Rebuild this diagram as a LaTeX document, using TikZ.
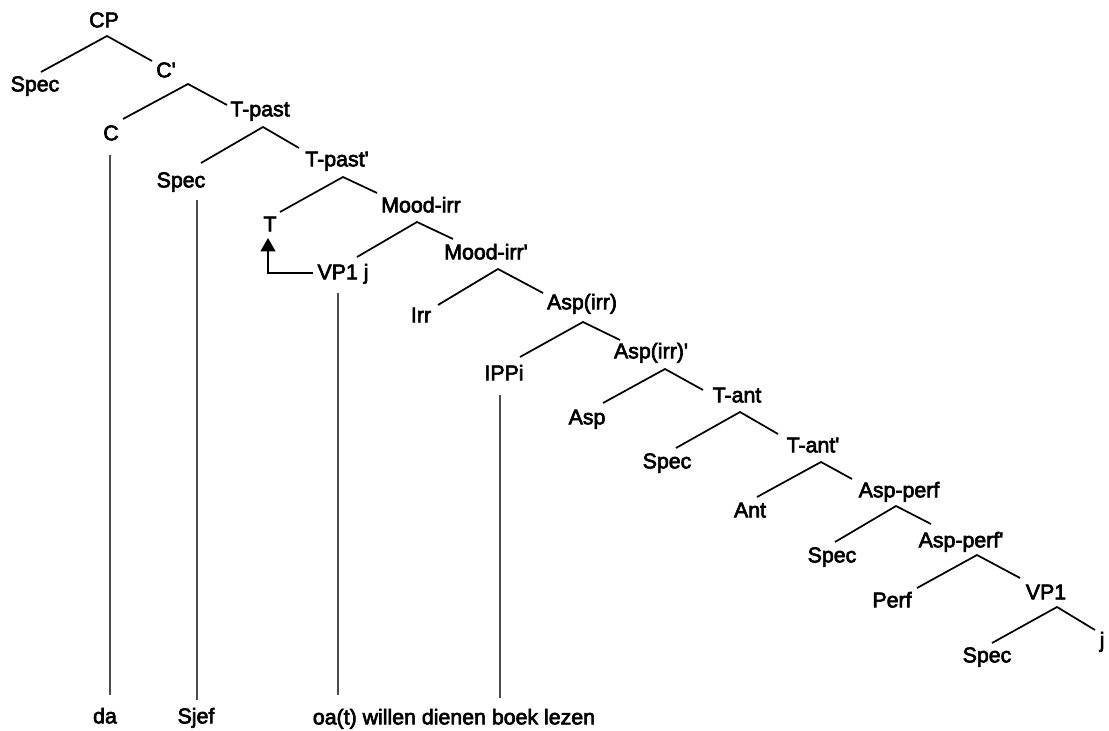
\documentclass[tikz,border=0pt]{standalone}
\usepackage{fontspec}
\setmainfont{Liberation Sans}[FakeBold=3]
\usetikzlibrary{arrows.meta,calc}

\begin{document}
\begin{tikzpicture}
		[x=0.75pt,y=-0.75pt,
		lbl/.style={inner sep=0pt,font=\fontsize{16}{19}\selectfont,text height=11pt,text depth=0pt},
		branch/.style={line width=1.3pt,black},
		trace/.style={line width=0.8pt,black!70},
		move/.style={line width=1.6pt,-{Triangle[width=11pt,length=10pt]}}]

		% 画布
		\useasboundingbox (0,0) rectangle (1109,731);
		\fill[white] (0,0) rectangle (1109,731);

		% 画树的结点
		\foreach \n/\x/\y/\t in {cp/104/20/CP, spec_1/35/84/Spec,
			cbar/166/70/C\textquotesingle, c/111/133/C,
			tpast/260/109/T-past, spec_2/181/180/Spec,
			tpastbar/337/159/T-past\textquotesingle, t/270/224/T,
			mood/421/205/Mood-irr, vpj/343/272/VP1 j,
			moodbar/486/252/Mood-irr\textquotesingle, irr/421/315/Irr,
			aspirr/582/302/Asp(irr), ippi/504/373/IPPi,
			aspirrbar/651/351/Asp(irr)\textquotesingle, asp/587/417/Asp,
			tant/737/395/T-ant, spec_3/667/461/Spec,
			tantbar/813/445/T-ant\textquotesingle, ant/750/510/Ant,
			aspperf/899/490/Asp-perf, spec_4/832/555/Spec,
			aspperfbar/961/540/Asp-perf\textquotesingle, perf/892/600/Perf,
			vp/1046/592/VP1, spec_5/987/655/Spec, j/1102/640/j}
		\node[lbl] (\n) at (\x,\y) {\t};

		% 底部的词
		\node[lbl] (w_1) at (105,716) {da};
		\node[lbl] (w_2) at (196,716) {Sjef};
		\node[lbl] (w_3) at (454,717) {oa(t) willen dienen boek lezen};

		% 树枝: 父结点 / 左子结点 / 右子结点
		\foreach \p/\px/\py/\l/\lx/\ly/\r/\rx/\ry in {
			cp/3/16/spec_1/6/-12/cbar/-14/-9,
			cbar/22/14/c/12/-14/tpast/-33/-4,
			tpast/3/18/spec_2/20/-17/tpastbar/-38/-11,
			tpastbar/6/18/t/10/-12/mood/-44/-12,
			mood/-4/17/vpj/14/-15/moodbar/-33/-13,
			moodbar/12/17/irr/17/-10/aspirr/-39/-9,
			aspirr/1/20/ippi/16/-16/aspirrbar/-31/-11,
			aspirrbar/14/18/asp/16/-14/tant/-34/-5,
			tant/3/17/spec_3/9/-13/tantbar/-35/-11,
			tantbar/8/17/ant/7/-13/aspperf/-47/-11,
			aspperf/-3/16/spec_4/3/-13/aspperfbar/-30/-16,
			aspperfbar/16/15/perf/25/-12/vp/-26/-14,
			vp/11/15/spec_5/5/-12/j/-7/-10}
		\draw[branch] ([shift={(\lx,\ly)}]\l.center) -- ([shift={(\px,\py)}]\p.center) -- ([shift={(\rx,\ry)}]\r.center);

		% 结点到底部词的竖线
		\foreach \u/\dx/\dy/\w/\dw in {c/-1/22/w_1/-21, spec_2/16/20/w_2/-16,
			vpj/-5/21/w_3/-22, ippi/-4/22/w_3/-19}
		\draw[trace] ($(\u.center)+(\dx,\dy)$) -- ($(\u.center |- \w.center)+(\dx,\dw)$);

		% 移位箭头
		\draw[move] ([shift={(-30,1)}]vpj.center) -| ([shift={(-2,14)}]t.center);

	\end{tikzpicture}
\end{document}
